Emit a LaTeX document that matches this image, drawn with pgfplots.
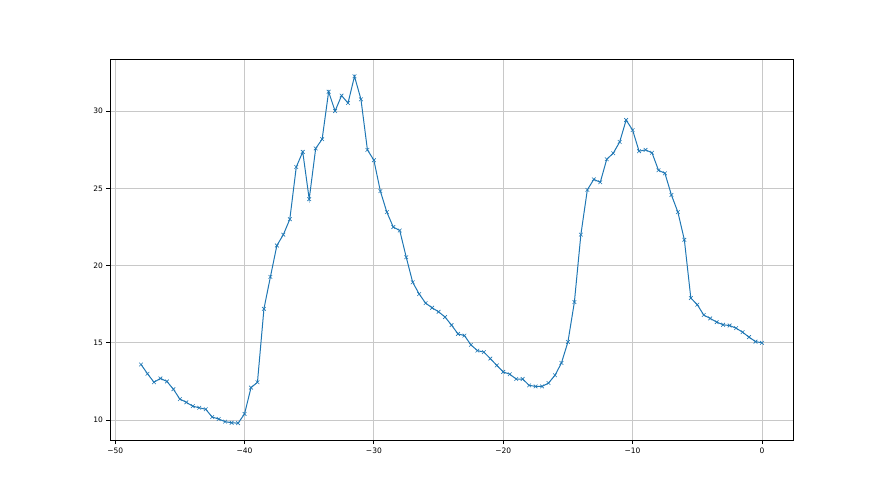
\documentclass[border=0pt]{standalone}
\usepackage{fontspec}
\setmainfont{DejaVu Sans}
\usepackage{pgfplots}
\pgfplotsset{compat=1.18}
\definecolor{mplblue}{HTML}{1F77B4}
\definecolor{mplgrid}{HTML}{C8C8C8}

\begin{document}
\begin{tikzpicture}
\path[use as bounding box] (-110pt,-54.5pt) rectangle (770pt,440.5pt);
\begin{axis}[
    at={(0,0)}, anchor=south west,
    scale only axis,
    width=683pt, height=381.5pt,
    xmin=-50.4, xmax=2.4,
    ymin=8.68, ymax=33.37,
    xtick={-50,-40,-30,-20,-10,0},
    xticklabels={−50,−40,−30,−20,−10,0},
    ytick={10,15,20,25,30},
    xtick pos=bottom, ytick pos=left,
    grid=major,
    major grid style={mplgrid, line width=0.8pt},
    axis line style={black, line width=0.8pt},
    tick align=outside,
    major tick length=3.5pt,
    tick style={black, line width=0.8pt},
    ticklabel style={font=\fontsize{7.5}{9}\selectfont},
    /pgf/number format/assume math mode=true,
]
\addplot[mplblue, line width=1pt, mark=x, mark size=2.6pt, mark options={line width=0.6pt}] coordinates {
(-48,13.6) (-47.5,13.0) (-47,12.45) (-46.5,12.7) (-46,12.5) (-45.5,12.0)
(-45,11.36) (-44.5,11.15) (-44,10.9) (-43.5,10.8) (-43,10.7) (-42.5,10.2)
(-42,10.07) (-41.5,9.9) (-41,9.83) (-40.5,9.8) (-40,10.4) (-39.5,12.1)
(-39,12.45) (-38.5,17.2) (-38,19.27) (-37.5,21.3) (-37,22.0) (-36.5,23.0)
(-36,26.38) (-35.5,27.36) (-35,24.3) (-34.5,27.58) (-34,28.18) (-33.5,31.25)
(-33,30.0) (-32.5,31.0) (-32,30.52) (-31.5,32.25) (-31,30.76) (-30.5,27.49)
(-30,26.82) (-29.5,24.82) (-29,23.46) (-28.5,22.49) (-28,22.27) (-27.5,20.54)
(-27,18.92) (-26.5,18.16) (-26,17.57) (-25.5,17.27) (-25,17.01) (-24.5,16.67)
(-24,16.15) (-23.5,15.58) (-23,15.47) (-22.5,14.87) (-22,14.5) (-21.5,14.4)
(-21,13.98) (-20.5,13.54) (-20,13.12) (-19.5,12.97) (-19,12.66) (-18.5,12.66)
(-18,12.25) (-17.5,12.18) (-17,12.18) (-16.5,12.4) (-16,12.9) (-15.5,13.7)
(-15,15.06) (-14.5,17.64) (-14,22.0) (-13.5,24.9) (-13,25.58) (-12.5,25.39)
(-12,26.88) (-11.5,27.27) (-11,28.0) (-10.5,29.42) (-10,28.77) (-9.5,27.4)
(-9,27.49) (-8.5,27.3) (-8,26.17) (-7.5,25.97) (-7,24.57) (-6.5,23.46)
(-6,21.67) (-5.5,17.9) (-5,17.47) (-4.5,16.8) (-4,16.58) (-3.5,16.34)
(-3,16.17) (-2.5,16.12) (-2,15.95) (-1.5,15.69) (-1,15.37) (-0.5,15.08)
(0,15.0)
};
\end{axis}
\end{tikzpicture}
\end{document}
